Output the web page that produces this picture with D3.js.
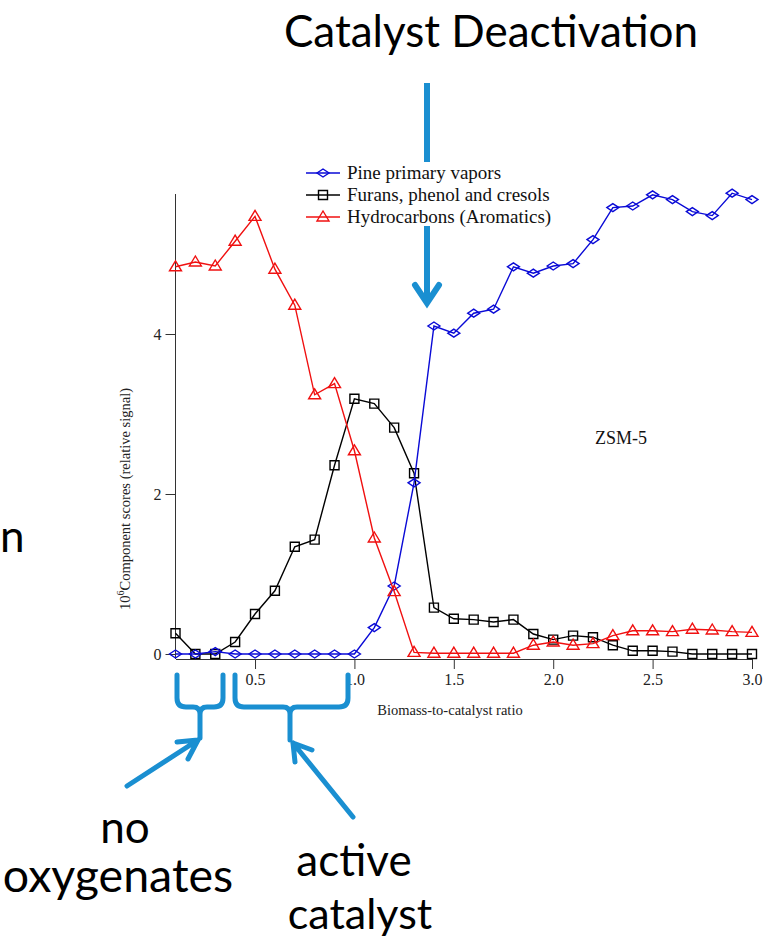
<!DOCTYPE html>
<html>
<head>
<meta charset="utf-8">
<script src="https://cdn.jsdelivr.net/npm/d3@7"></script>
<style>
  html, body { margin: 0; padding: 0; background: #fff; }
  svg { display: block; }
  .axis path, .axis line { stroke: #333; }
</style>
</head>
<body>
<svg id="chart"></svg>
<script>
// values
const ratio = [0.1, 0.2, 0.3, 0.4, 0.5, 0.6, 0.7, 0.8, 0.9, 1.0,
               1.1, 1.2, 1.3, 1.4, 1.5, 1.6, 1.7, 1.8, 1.9, 2.0,
               2.1, 2.2, 2.3, 2.4, 2.5, 2.6, 2.7, 2.8, 2.9, 3.0];
const pine = [0, 0, 0.03, 0, 0, 0, 0, 0, 0, 0,
              0.33, 0.85, 2.14, 4.10, 4.01, 4.26, 4.31, 4.84, 4.76, 4.85,
              4.88, 5.18, 5.58, 5.60, 5.74, 5.68, 5.53, 5.48, 5.76, 5.68];
const furans = [0.26, 0, 0, 0.15, 0.50, 0.79, 1.34, 1.43, 2.36, 3.19,
                3.13, 2.83, 2.26, 0.58, 0.44, 0.43, 0.40, 0.43, 0.25, 0.18,
                0.23, 0.21, 0.11, 0.04, 0.04, 0.03, 0, 0, 0, 0];
const hydro = [4.84, 4.90, 4.85, 5.16, 5.47, 4.81, 4.36, 3.24, 3.38, 2.54,
               1.45, 0.78, 0.02, 0.01, 0.01, 0.01, 0.01, 0.01, 0.11, 0.15,
               0.11, 0.13, 0.23, 0.29, 0.29, 0.28, 0.31, 0.30, 0.28, 0.27];
const seriesNames = ['Pine primary vapors', 'Furans, phenol and cresols', 'Hydrocarbons (Aromatics)'];
const xTicks = [0.5, 1.0, 1.5, 2.0, 2.5, 3.0];
const yTicks = [0, 2, 4];

const W = 763, H = 940;
const accent = '#1a8fd1';
const serif = '"Liberation Serif", "Times New Roman", serif';
const sans = 'Lato, "Open Sans", sans-serif';

const svg = d3.select('#chart').attr('width', W).attr('height', H);

const x = d3.scaleLinear().domain([0.1, 3.0]).range([175.5, 752]);
const y = d3.scaleLinear().domain([0, 5.75]).range([654, 194]);
const axisY = 659;

// big arrow (drawn first, legend box covers it)
svg.append('line')
  .attr('x1', 427).attr('y1', 83).attr('x2', 427).attr('y2', 302)
  .attr('stroke', accent).attr('stroke-width', 6);
svg.append('path')
  .attr('d', 'M415,285 L427,303 L439,285')
  .attr('fill', 'none').attr('stroke', accent).attr('stroke-width', 6)
  .attr('stroke-linejoin', 'miter').attr('stroke-linecap', 'round');

svg.append('text')
  .attr('x', 491).attr('y', 47)
  .attr('text-anchor', 'middle')
  .style('font-family', sans).style('font-size', '44px').attr('fill', '#000')
  .text('Catalyst Deactivation');

// axes
const xAxis = svg.append('g')
  .attr('class', 'axis')
  .attr('transform', `translate(0,${axisY})`)
  .call(d3.axisBottom(x).tickValues(xTicks).tickFormat(d3.format('.1f')).tickSize(10).tickSizeOuter(0).tickPadding(5));

const yAxis = svg.append('g')
  .attr('class', 'axis')
  .attr('transform', `translate(${x(0.1)},0)`)
  .call(d3.axisLeft(y).tickValues(yTicks).tickFormat(d3.format('d')).tickSize(10).tickSizeOuter(0).tickPadding(4));
yAxis.select('.domain').remove();
yAxis.append('line')
  .attr('y1', y(5.75)).attr('y2', axisY)
  .attr('stroke', '#333');

[xAxis, yAxis].forEach(g => g.selectAll('text')
  .style('font-family', serif).style('font-size', '16px').attr('fill', '#222'));

svg.append('text')
  .attr('x', 450).attr('y', 715)
  .attr('text-anchor', 'middle')
  .style('font-family', serif).style('font-size', '14.5px').attr('fill', '#222')
  .text('Biomass-to-catalyst ratio');

const yl = svg.append('text')
  .attr('transform', 'translate(130,499) rotate(-90)')
  .attr('text-anchor', 'middle')
  .style('font-family', serif).style('font-size', '14.5px').attr('fill', '#222');
yl.append('tspan').text('10');
yl.append('tspan').attr('dy', -6).style('font-size', '10px').text('6');
yl.append('tspan').attr('dy', 6).text('Component scores (relative signal)');

svg.append('text')
  .attr('x', 595).attr('y', 444)
  .style('font-family', serif).style('font-size', '18px').attr('fill', '#111')
  .text('ZSM-5');

// series
const markers = {
  diamond: 'M0,-4 L6,0 L0,4 L-6,0 Z',
  square: 'M-4.5,-4.5 H4.5 V4.5 H-4.5 Z',
  triangle: 'M0,-6 L6,4 L-6,4 Z'
};
const series = [
  { name: seriesNames[0], values: pine, color: '#0a0ad6', marker: markers.diamond },
  { name: seriesNames[1], values: furans, color: '#000', marker: markers.square },
  { name: seriesNames[2], values: hydro, color: '#f01010', marker: markers.triangle }
];

const line = d3.line().x(d => x(d[0])).y(d => y(d[1]));

// furans first, then pine, hydrocarbons on top
[series[1], series[0], series[2]].forEach(s => {
  const pts = ratio.map((r, i) => [r, s.values[i]]);
  const g = svg.append('g');
  g.append('path')
    .datum(pts)
    .attr('d', line)
    .attr('fill', 'none').attr('stroke', s.color).attr('stroke-width', 1.4);
  g.selectAll('path.mk')
    .data(pts)
    .enter().append('path')
    .attr('class', 'mk')
    .attr('d', s.marker)
    .attr('transform', d => `translate(${x(d[0])},${y(d[1])})`)
    .attr('fill', 'none').attr('stroke', s.color).attr('stroke-width', 1.4);
});

// legend
const legend = svg.append('g').attr('transform', 'translate(306,173)');
legend.append('rect')
  .attr('x', -14).attr('y', -11).attr('width', 272).attr('height', 64)
  .attr('fill', '#fff');
series.forEach((s, i) => {
  const row = legend.append('g').attr('transform', `translate(0,${i * 22})`);
  row.append('line').attr('x1', 0).attr('x2', 34)
    .attr('stroke', s.color).attr('stroke-width', 1.4);
  row.append('path').attr('d', s.marker).attr('transform', 'translate(17,0)')
    .attr('fill', 'none').attr('stroke', s.color).attr('stroke-width', 1.4);
  row.append('text').attr('x', 41).attr('y', 6)
    .style('font-family', serif).style('font-size', '19px').attr('fill', '#111')
    .text(s.name);
});

// bottom annotations
const ann = svg.append('g')
  .attr('fill', 'none').attr('stroke', accent).attr('stroke-width', 5)
  .attr('stroke-linecap', 'round').attr('stroke-linejoin', 'round');
ann.append('path')
  .attr('d', 'M177,675 V698 Q177,707 186,707 H193 Q200,707 200,714 V738 M200,714 Q200,707 207,707 H214 Q223,707 223,698 V675');
ann.append('path')
  .attr('d', 'M235,675 V698 Q235,707 244,707 H283 Q290,707 290,714 V740 M290,714 Q290,707 297,707 H339 Q348,707 348,698 V675');
ann.append('path').attr('d', 'M127,786 L198,740 M177,742 L198,740 L188,759');
ann.append('path').attr('d', 'M353,817 L293,743 M312,750 L293,743 L295,762');

const bigText = [
  { t: 'n', x: 0, y: 552, anchor: 'start', size: 44 },
  { t: 'no', x: 125, y: 843, anchor: 'middle', size: 44 },
  { t: 'oxygenates', x: 118, y: 892, anchor: 'middle', size: 46.5 },
  { t: 'active', x: 354, y: 876, anchor: 'middle', size: 44 },
  { t: 'catalyst', x: 360, y: 929, anchor: 'middle', size: 43 }
];
svg.selectAll('text.big')
  .data(bigText)
  .enter().append('text')
  .attr('class', 'big')
  .attr('x', d => d.x).attr('y', d => d.y)
  .attr('text-anchor', d => d.anchor)
  .style('font-family', sans).style('font-size', d => d.size + 'px').attr('fill', '#000')
  .text(d => d.t);
</script>
</body>
</html>
